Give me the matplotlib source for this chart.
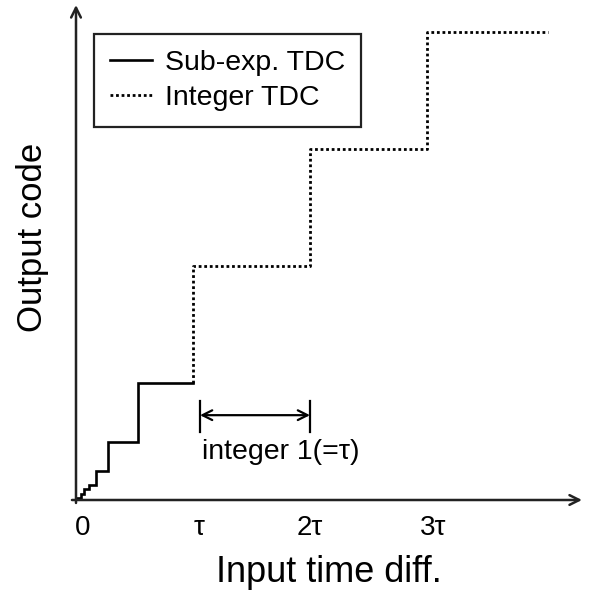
import numpy as np
import matplotlib
matplotlib.use("Agg")
import matplotlib.pyplot as plt
from matplotlib.transforms import ScaledTranslation

plt.rcParams['font.family'] = ['Liberation Sans', 'DejaVu Sans']

# values in units of tau (x) and code units (y)
sub_x = [0.0, 0.04, 0.07, 0.11, 0.17, 0.27, 0.53, 1.0]
sub_y = [0.02, 0.05, 0.09, 0.13, 0.25, 0.5, 1.0, 1.0]
int_x = [1.0, 1.0, 2.0, 3.0, 4.03]
int_y = [1.0, 2.0, 3.0, 4.0, 4.0]
tick_pos = [0, 1, 2, 3]
tick_labels = ['0', 'τ', '2τ', '3τ']

W, H = 592, 594
fig = plt.figure(figsize=(W / 100, H / 100), dpi=100)
ax = fig.add_axes([76 / W, 94 / H, (582 - 76) / W, (500 - 5) / H])
ax.set_xlim(0, (582 - 76) / 117)
ax.set_ylim(0, (500 - 5) / 117)
for s in ax.spines.values():
    s.set_visible(False)

# axis arrows
arr = dict(arrowstyle='->,head_length=0.7,head_width=0.35', lw=1.8, color='#222222',
           shrinkA=0, shrinkB=0)
ax.annotate('', xy=(1, 0), xytext=(-0.008, 0), xycoords='axes fraction', arrowprops=arr)
ax.annotate('', xy=(0, 1), xytext=(0, -0.006), xycoords='axes fraction', arrowprops=arr)

ax.step(sub_x, sub_y, where='post', color='black', lw=1.9, label='Sub-exp. TDC',
        solid_joinstyle='miter', clip_on=False)
ax.step(int_x, int_y, where='post', color='black', lw=2.0, linestyle=(0, (1, 1)),
        dash_capstyle='butt', label='Integer TDC', clip_on=False)

ax.set_xticks(tick_pos)
ax.set_xticklabels(tick_labels, fontsize=20)
ax.tick_params(axis='x', length=0, pad=11)
ax.set_yticks([])
shifts = [7, 6, 0, 6]
for lbl, dx in zip(ax.get_xticklabels(), shifts):
    lbl.set_transform(lbl.get_transform() + ScaledTranslation(dx / 100, 0, fig.dpi_scale_trans))

ax.set_xlabel('Input time diff.', fontsize=26)
ax.xaxis.set_label_coords(0.5, -0.112)
ax.set_ylabel('Output code', fontsize=25)
ax.yaxis.set_label_coords(-0.054, 0.53)

# integer step annotation
ax.plot([1.06, 1.06], [0.58, 0.85], color='black', lw=1.6)
ax.plot([2.0, 2.0], [0.58, 0.85], color='black', lw=1.6)
ax.annotate('', xy=(1.06, 0.725), xytext=(2.0, 0.725),
            arrowprops=dict(arrowstyle='<->,head_length=0.7,head_width=0.35', lw=1.6,
                            color='black', shrinkA=0, shrinkB=0))
ax.text(1.08, 0.41, 'integer 1(=τ)', fontsize=20.5, ha='left', va='center')

leg = ax.legend(loc='upper left', bbox_to_anchor=(94 / W, 1 - 34 / H),
                bbox_transform=fig.transFigure, borderaxespad=0, fontsize=20.5,
                fancybox=False, edgecolor='#222222', framealpha=1,
                handlelength=1.5, handletextpad=0.45, borderpad=0.55, labelspacing=0.34)
leg.get_frame().set_linewidth(1.6)

fig.savefig('out.png', dpi=100)
